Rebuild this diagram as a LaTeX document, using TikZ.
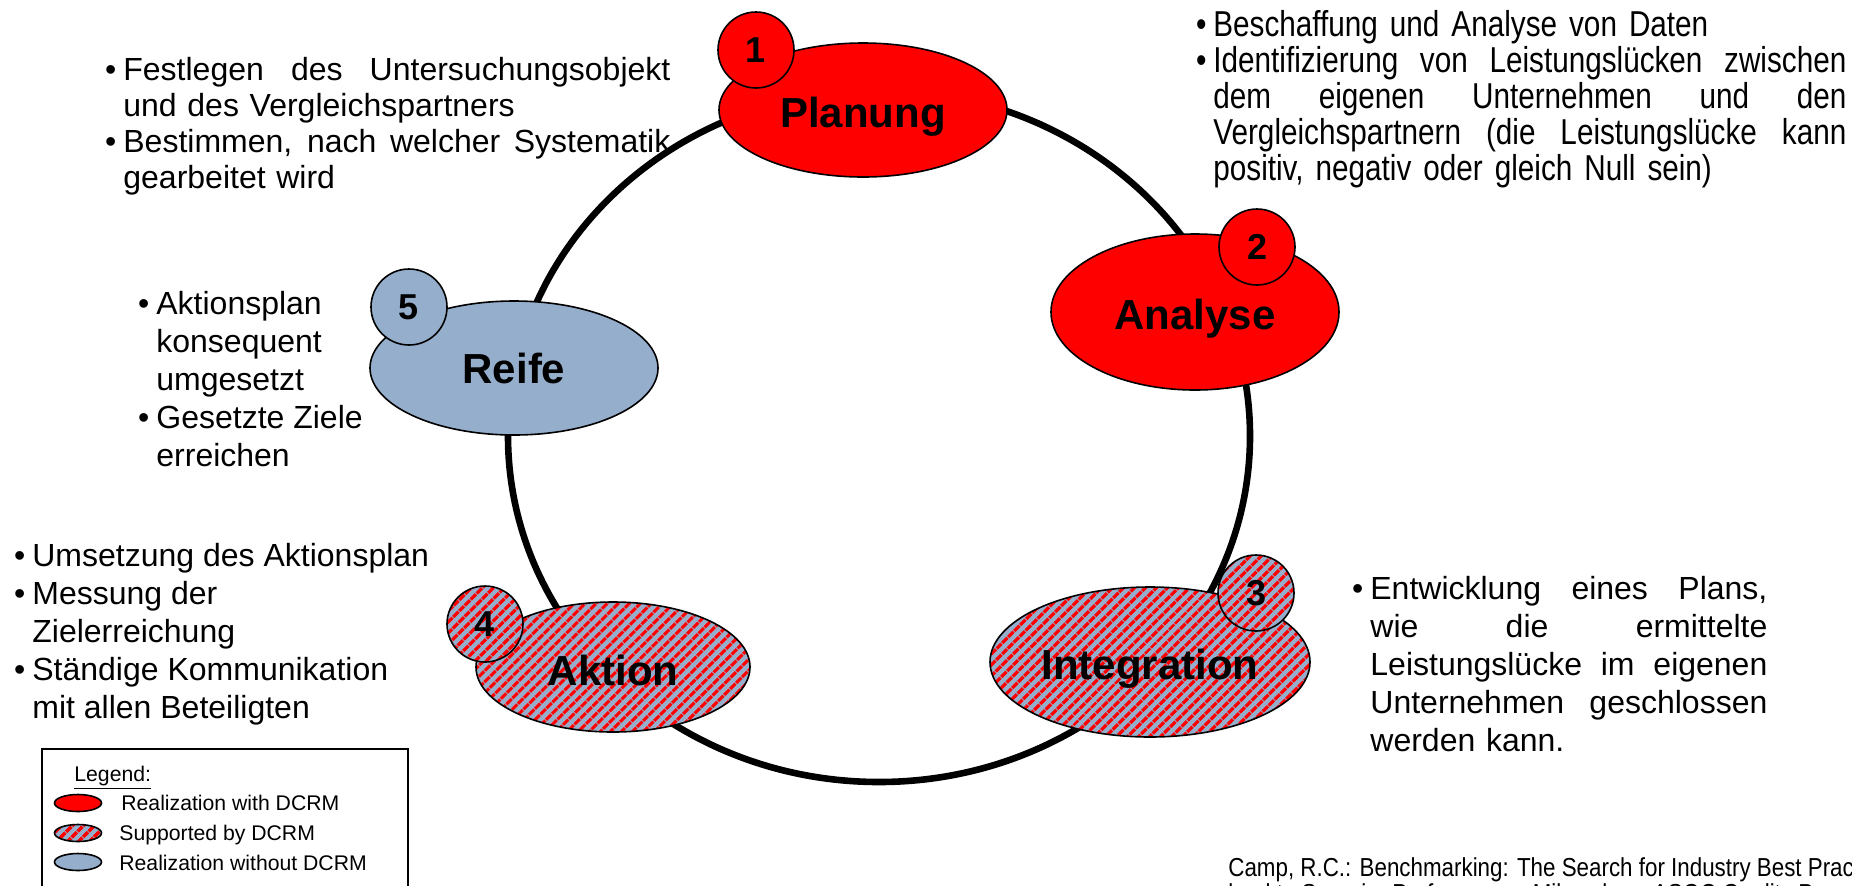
\documentclass[tikz,border=0pt]{standalone}
\usepackage{fontspec}
\setmainfont{Liberation Sans}
\newfontfamily\narrowfont{Liberation Sans}[FakeStretch=0.825]
\newfontfamily\citefont{Liberation Sans}[FakeStretch=0.86]
\usepackage{tikz}
\usetikzlibrary{shapes.geometric,patterns.meta}
\definecolor{phasered}{RGB}{255,0,0}
\definecolor{phasegrey}{RGB}{149,174,204}
\newcommand\bitem{\leavevmode\llap{\textbullet\hspace{3.5pt}}}
\newcommand\jline[1]{\makebox[\hsize][s]{\spaceskip=0.278em plus 1fil\relax #1}}

\begin{document}
\begin{tikzpicture}[
        x=0.5pt, y=-0.5pt,
        ring/.style={ellipse, draw=black, line width=3.3pt, inner sep=0pt},
        phase/.style={ellipse, draw=black, line width=0.8pt, inner sep=0pt, font=\fontsize{21}{24}\bfseries\selectfont},
        low/.style={text height=22.3pt, text depth=4.4pt},
        numcircle/.style={circle, draw=black, line width=0.8pt, minimum size=38pt, inner sep=0pt, font=\fontsize{18}{20}\bfseries\selectfont},
        withdcrm/.style={fill=phasered},
        supported/.style={preaction={fill=phasegrey}, pattern={Lines[angle=45,distance=4pt,line width=1.8pt]}, pattern color=phasered},
        withoutdcrm/.style={fill=phasegrey},
        txt/.style={anchor=north west, inner sep=0pt, align=left, font=\fontsize{16}{19}\selectfont},
        legendtxt/.style={anchor=base west, inner sep=0pt, font=\fontsize{10.6}{12}\selectfont},
        legendmark/.style={ellipse, draw=black, line width=0.8pt, minimum width=23.5pt, minimum height=8.5pt, inner sep=0pt}
    ]
        \useasboundingbox (0,0) rectangle (1852,885);
        \fill[white] (0,0) rectangle (1852,885);
        \clip (0,0) rectangle (1852,885);

        % Cycle
        \node[ring, minimum width=371pt, minimum height=346pt] (cycle) at (879,436) {};

        % Phases
        \node[phase, withdcrm, low, minimum width=144pt, minimum height=67pt] (planung) at (863,110) {Planung};
        \node[phase, withdcrm, low, minimum width=144pt, minimum height=78pt] (analyse) at (1195,312) {Analyse};
        \node[phase, supported, low, minimum width=160pt, minimum height=75pt] (integration) at (1150,662) {Integration};
        \node[phase, supported, text height=18.8pt, text depth=0pt, minimum width=137pt, minimum height=65pt] (aktion) at (613,667) {Aktion};
        \node[phase, withoutdcrm, minimum width=144pt, minimum height=67pt] (reife) at (514,368) {Reife};

        % Step numbers
        \node[numcircle, withdcrm] (num1) at (756,50) {1};
        \node[numcircle, withdcrm] (num2) at (1257,247) {2};
        \node[numcircle, supported] (num3) at (1256,593) {3};
        \node[numcircle, supported] (num4) at (485,624) {4};
        \node[numcircle, withoutdcrm] (num5) at (409,307) {5};

        % Descriptions
        \node[txt, font=\fontsize{16}{18}\selectfont, text width=273.5pt] (planungtext) at (123,57) {\bitem\jline{Festlegen des Untersuchungsobjekt}\\und des Vergleichspartners\\\bitem\jline{Bestimmen, nach welcher Systematik}\\gearbeitet wird};
        \node[txt, font=\narrowfont\fontsize{18}{18}\selectfont, text width=316.5pt] (analysetext) at (1213,10) {\bitem Beschaffung und Analyse von Daten\\\bitem\jline{Identifizierung von Leistungslücken zwischen}\\\jline{dem eigenen Unternehmen und den}\\\jline{Vergleichspartnern (die Leistungslücke kann}\\positiv, negativ oder gleich Null sein)};
        \node[txt, text width=198.5pt] (integrationtext) at (1370,576) {\bitem\jline{Entwicklung eines Plans,}\\\jline{wie die ermittelte}\\\jline{Leistungslücke im eigenen}\\\jline{Unternehmen geschlossen}\\werden kann.};
        \node[txt] (aktiontext) at (32,543) {\bitem Umsetzung des Aktionsplan\\\bitem Messung der\\Zielerreichung\\\bitem Ständige Kommunikation\\mit allen Beteiligten};
        \node[txt] (reifetext) at (156,290.5) {\bitem Aktionsplan\\konsequent\\umgesetzt\\\bitem Gesetzte Ziele\\erreichen};

        % Legend
        \node[draw=black, line width=0.8pt, minimum width=183pt, minimum height=76pt, inner sep=0pt, anchor=north west] (legend) at (41,748) {};
        \node[legendtxt] (legendtitle) at (74,781) {\underline{Legend:}};
        \node[legendmark, withdcrm] (mark1) at (78,803) {};
        \node[legendmark, supported] (mark2) at (78,833) {};
        \node[legendmark, withoutdcrm] (mark3) at (78,862) {};
        \node[legendtxt] (item1) at (121,810) {Realization with DCRM};
        \node[legendtxt] (item2) at (119,840) {Supported by DCRM};
        \node[legendtxt] (item3) at (119,870) {Realization without DCRM};

        % Source
        \node[anchor=north west, inner sep=0pt, align=left, font=\citefont\fontsize{13}{13}\selectfont] (source) at (1228,857) {Camp, R.C.: Benchmarking: The Search for Industry Best Practices that\\lead to Superior Performance, Milwaukee: ASQC Quality Press, 1989};
\end{tikzpicture}
\end{document}
